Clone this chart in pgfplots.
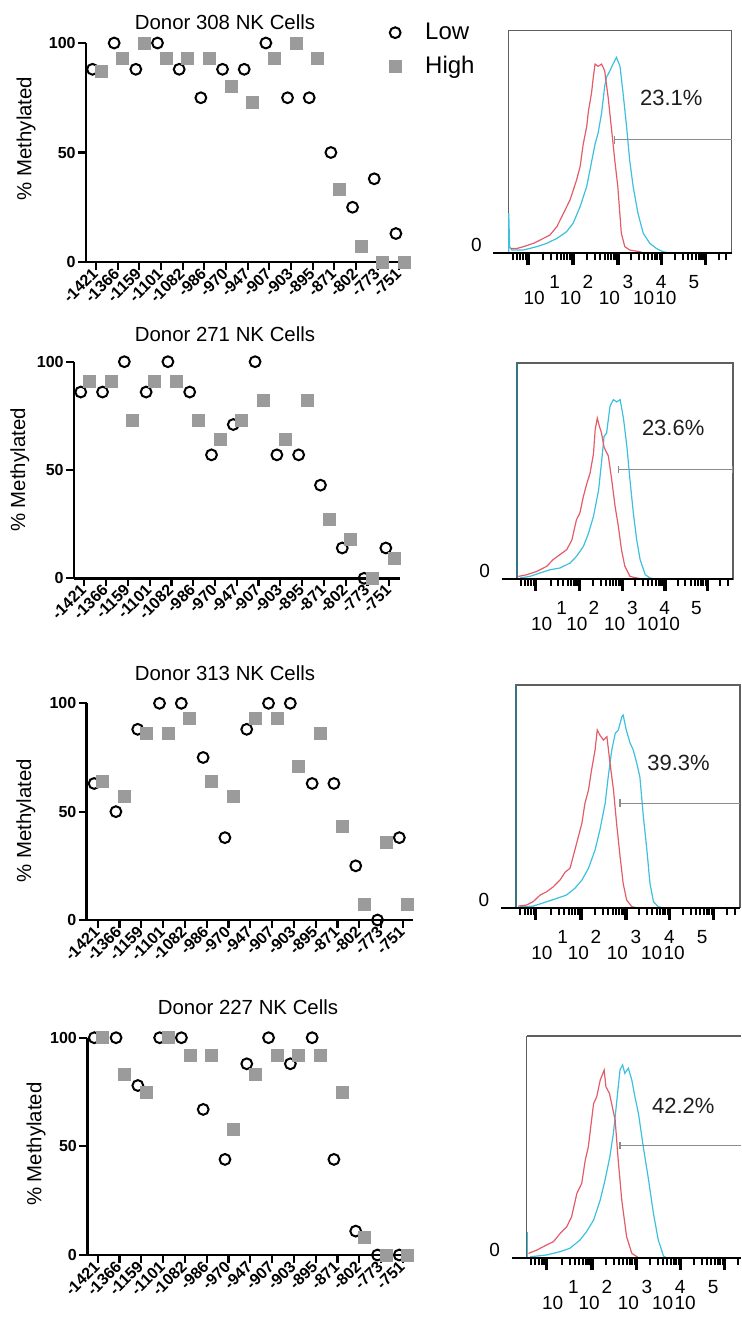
\documentclass[border=0pt]{standalone}
\usepackage{pgfplots}
\pgfplotsset{compat=1.18}
\usepackage{fontspec}
\setmainfont{Liberation Sans}
\definecolor{highc}{RGB}{155,155,155}
\definecolor{hred}{RGB}{228,92,105}
\definecolor{hcyan}{RGB}{60,192,222}
\definecolor{hteal}{RGB}{55,115,130}
\definecolor{boxc}{RGB}{95,95,95}
\definecolor{gatec}{RGB}{140,140,140}
\definecolor{pctc}{RGB}{30,30,30}
\tikzset{hl/.style={font=\fontsize{9.5}{11}\selectfont, inner sep=0.5pt}}
\pgfplotsset{
 scat/.style={scale only axis, clip=false, xmin=-0.48, xmax=14.49, ymin=0, ymax=100,
   axis x line*=bottom, axis y line*=left, axis line style={line width=1.3pt, black},
   xtick={0,...,14},
   xticklabels={-1421,-1366,-1159,-1101,-1082,-986,-970,-947,-907,-903,-895,-871,-802,-773,-751},
   ytick={0,50,100},
   tick align=outside, major tick length=4pt, every tick/.style={black, line width=1.1pt},
   /pgf/number format/assume math mode=true,
   yticklabel style={font=\bfseries\fontsize{8}{9}\selectfont, inner sep=1pt},
   xticklabel style={font=\bfseries\fontsize{8}{9}\selectfont, rotate=45, anchor=east, inner sep=0.5pt},
   ylabel={\% Methylated}, ylabel style={font=\fontsize{10.2}{12}\selectfont, anchor=center},
 },
 lowm/.style={only marks, mark=o, mark size=2.7pt, mark options={line width=1pt, black}},
 highm/.style={only marks, mark=square*, mark size=3pt, mark options={draw=highc, fill=highc}},
 hist/.style={scale only axis, clip=false, xmin=0, ymin=0, ymax=100,
   axis line style={boxc, line width=0.7pt},
   xtick={0.45,1.48,2.5,3.5,4.5}, xticklabels={},
   minor xtick={0.102,0.199,0.278,0.345,0.403,
     0.801,0.977,1.102,1.199,1.278,1.345,1.403,1.44,
     1.801,1.977,2.102,2.199,2.278,2.345,2.403,2.454,
     2.801,2.977,3.102,3.199,3.278,3.345,3.403,3.454,
     3.801,3.977,4.102,4.199,4.278,4.345,4.403,4.454,
     4.801,4.977},
   ytick=\empty, tick pos=left, tick align=outside,
   major tick length=6pt, minor tick length=3.5pt,
   tick style={black, line width=1pt},
   major tick style={black, line width=1.7pt},
   minor tick style={black, line width=1pt},
 },
 rline/.style={hred, line width=0.6pt, sharp plot, no marks},
 cline/.style={hcyan, line width=0.6pt, sharp plot, no marks},
}
\newcommand{\histlabels}{%
  \draw[black, line width=1pt] ([xshift=-7.5pt]axis cs:0,0) -- (rel axis cs:1,0);
  \node[hl] at ([xshift=-16pt,yshift=4pt]axis cs:0,0) {0};
  \node[hl] at ([yshift=-22.5pt]axis cs:0.59,0) {10};
  \node[hl] at ([yshift=-22.5pt]axis cs:1.42,0) {10};
  \node[hl] at ([yshift=-22.5pt]axis cs:2.31,0) {10};
  \node[hl] at ([yshift=-22.5pt]axis cs:3.09,0) {10};
  \node[hl] at ([yshift=-22.5pt]axis cs:3.6,0) {10};
  \node[hl] at ([yshift=-14.5pt]axis cs:1.06,0) {1};
  \node[hl] at ([yshift=-14.5pt]axis cs:1.82,0) {2};
  \node[hl] at ([yshift=-14.5pt]axis cs:2.73,0) {3};
  \node[hl] at ([yshift=-14.5pt]axis cs:3.49,0) {4};
  \node[hl] at ([yshift=-14.5pt]axis cs:4.24,0) {5};
}
\begin{document}
\begin{tikzpicture}
\useasboundingbox (0,0) rectangle (370.5pt,-659pt);
% titles
\node[font=\fontsize{10.2}{12}\selectfont] at (112.5pt,-11pt) {Donor 308 NK Cells};
\node[font=\fontsize{10.2}{12}\selectfont] at (112.5pt,-167pt) {Donor 271 NK Cells};
\node[font=\fontsize{10.2}{12}\selectfont] at (112.5pt,-336.5pt) {Donor 313 NK Cells};
\node[font=\fontsize{10.2}{12}\selectfont] at (124pt,-503.5pt) {Donor 227 NK Cells};

% ---------- scatter 1 ----------
\begin{axis}[scat, at={(43pt,-131pt)}, anchor=south west, width=162pt, height=109.5pt,
  xmin=-0.46, xmax=14.49,
  ylabel style={at={(axis description cs:-0.185,0.564)}},
  legend style={at={(axis description cs:0.916,1.13)}, anchor=north west, draw=none, fill=none,
    font=\fontsize{12}{14}\selectfont, row sep=3pt, column sep=10pt},
  legend cell align=left]
\addplot[lowm] coordinates {(-0.16,88)(0.84,100)(1.84,88)(2.84,100)(3.84,88)(4.84,75)(5.84,88)(6.84,88)(7.84,100)(8.84,75)(9.84,75)(10.84,50)(11.84,25)(12.84,38)(13.84,13)};
\addplot[highm] coordinates {(0.23,87)(1.23,93)(2.23,100)(3.23,93)(4.23,93)(5.23,93)(6.23,80)(7.23,73)(8.23,93)(9.23,100)(10.23,93)(11.23,33)(12.23,7)(13.23,0)(14.23,0)};
\legend{Low,High}
\end{axis}

% ---------- scatter 2 ----------
\begin{axis}[scat, at={(37pt,-289.15pt)}, anchor=south west, width=163pt, height=108.3pt,
  xmin=-0.47, xmax=14.49,
  ylabel style={at={(axis description cs:-0.166,0.5)}}]
\addplot[lowm] coordinates {(-0.16,86)(0.84,86)(1.84,100)(2.84,86)(3.84,100)(4.84,86)(5.84,57)(6.84,71)(7.84,100)(8.84,57)(9.84,57)(10.84,43)(11.84,14)(12.84,0)(13.84,14)};
\addplot[highm] coordinates {(0.23,91)(1.23,91)(2.23,73)(3.23,91)(4.23,91)(5.23,73)(6.23,64)(7.23,73)(8.23,82)(9.23,64)(10.23,82)(11.23,27)(12.23,18)(13.23,0)(14.23,9)};
\end{axis}

% ---------- scatter 3 ----------
\begin{axis}[scat, at={(43.35pt,-460pt)}, anchor=south west, width=163.3pt, height=108.35pt,
  xmin=-0.5, xmax=14.48,
  ylabel style={at={(axis description cs:-0.186,0.457)}}]
\addplot[lowm] coordinates {(-0.16,63)(0.84,50)(1.84,88)(2.84,100)(3.84,100)(4.84,75)(5.84,38)(6.84,88)(7.84,100)(8.84,100)(9.84,63)(10.84,63)(11.84,25)(12.84,0)(13.84,38)};
\addplot[highm] coordinates {(0.23,64)(1.23,57)(2.23,86)(3.23,86)(4.23,93)(5.23,64)(6.23,57)(7.23,93)(8.23,93)(9.23,71)(10.23,86)(11.23,43)(12.23,7)(13.23,36)(14.23,7)};
\end{axis}

% ---------- scatter 4 ----------
\begin{axis}[scat, at={(43.65pt,-627.5pt)}, anchor=south west, width=162.85pt, height=108.65pt,
  xmin=-0.48, xmax=14.47,
  ylabel style={at={(axis description cs:-0.157,0.51)}}]
\addplot[lowm] coordinates {(-0.16,100)(0.84,100)(1.84,78)(2.84,100)(3.84,100)(4.84,67)(5.84,44)(6.84,88)(7.84,100)(8.84,88)(9.84,100)(10.84,44)(11.84,11)(12.84,0)(13.84,0)};
\addplot[highm] coordinates {(0.23,100)(1.23,83)(2.23,75)(3.23,100)(4.23,92)(5.23,92)(6.23,58)(7.23,83)(8.23,92)(9.23,92)(10.23,92)(11.23,75)(12.23,8)(13.23,0)(14.23,0)};
\end{axis}

% ---------- histogram 1 ----------
\begin{axis}[hist, at={(254.15pt,-126.65pt)}, anchor=south west, width=111.7pt, height=111.3pt, xmax=5.1]
\addplot[cline] coordinates {(0.01,0)(0.01,18)(0.03,3)(0.08,1.5)(0.35,1.5)(0.65,3)(0.88,4.5)(1.11,6.7)(1.33,9.7)(1.48,13.5)(1.64,21)(1.79,30)(1.86,37)(1.98,49)(2.05,54)(2.13,63)(2.2,75)(2.24,79)(2.32,82)(2.39,85)(2.47,88)(2.55,84)(2.62,72)(2.7,57)(2.77,42)(2.85,30)(2.96,18)(3.08,9)(3.23,4.5)(3.38,2.2)(3.53,0.7)(3.7,0)};
\addplot[rline] coordinates {(0.05,2.2)(0.2,2.2)(0.35,3)(0.58,4.5)(0.8,6.7)(0.95,8.2)(1.11,12)(1.26,18)(1.41,24)(1.56,33)(1.64,39)(1.71,49)(1.79,57)(1.83,64)(1.9,72)(1.94,79)(1.98,85)(2.05,84)(2.13,85)(2.2,82)(2.28,70)(2.35,57)(2.43,42)(2.5,30)(2.58,9)(2.66,3)(2.77,1.5)(3.0,0.7)(3.1,0)};
\draw[gatec, line width=0.6pt] (axis cs:2.43,51) -- (axis cs:5.1,51);
\draw[gatec, line width=0.6pt] (axis cs:2.43,49.3) -- (axis cs:2.43,52.7);
\node[font=\fontsize{11}{13}\selectfont, text=pctc] at (axis cs:3.72,70) {23.1\%};
\histlabels
\end{axis}

% ---------- histogram 2 ----------
\begin{axis}[hist, at={(258.35pt,-289.5pt)}, anchor=south west, width=108.15pt, height=108pt, xmax=5.1]
\addplot[hteal, line width=0.9pt] coordinates {(0.0,0)(0.0,100)};
\addplot[cline] coordinates {(0.08,0.5)(0.31,1.2)(0.55,2.8)(0.79,4.3)(1.02,5.1)(1.26,7.4)(1.41,10.5)(1.57,15)(1.69,21)(1.81,29)(1.93,41)(2.0,54)(2.06,66)(2.12,67.6)(2.2,80)(2.28,83)(2.36,82)(2.44,83)(2.52,74)(2.6,61)(2.67,46)(2.75,30.6)(2.83,18)(2.91,9)(3.03,2)(3.14,0.5)(3.25,0)};
\addplot[rline] coordinates {(0.04,1.2)(0.24,2)(0.47,3.5)(0.71,5.9)(0.86,9)(1.02,11.3)(1.18,13.6)(1.3,18)(1.41,27.5)(1.49,30.6)(1.57,38)(1.65,44)(1.73,49)(1.81,58)(1.85,69)(1.9,74.5)(1.95,70.7)(2.0,67.6)(2.06,61)(2.16,57)(2.24,46)(2.32,33.6)(2.4,24)(2.47,13.6)(2.55,5.9)(2.67,1.2)(2.83,0.5)(2.95,0)};
\draw[gatec, line width=0.6pt] (axis cs:2.4,50.6) -- (axis cs:5.1,50.6);
\draw[gatec, line width=0.6pt] (axis cs:2.4,48.9) -- (axis cs:2.4,52.3);
\draw[gatec, line width=0.6pt] (axis cs:5.08,48.9) -- (axis cs:5.08,52.3);
\node[font=\fontsize{11}{13}\selectfont, text=pctc] at (axis cs:3.69,70) {23.6\%};
\histlabels
\end{axis}

% ---------- histogram 3 ----------
\begin{axis}[hist, at={(258pt,-453.85pt)}, anchor=south west, width=112pt, height=111.35pt, xmax=5.1]
\addplot[hteal, line width=0.9pt] coordinates {(0.0,0)(0.0,100)};
\addplot[cline] coordinates {(0.09,0.4)(0.39,0.7)(0.7,2.7)(0.93,4.2)(1.15,5.7)(1.34,8.7)(1.5,12.4)(1.65,17.7)(1.8,25.9)(1.91,34.9)(2.03,46.9)(2.1,58.8)(2.18,70.8)(2.26,78.3)(2.33,79.8)(2.41,85.8)(2.44,86.5)(2.51,79.8)(2.6,73.8)(2.67,70.8)(2.75,64.8)(2.82,58.8)(2.9,40.9)(2.98,25.9)(3.05,10.9)(3.13,2.7)(3.24,0.4)(3.35,0)};
\addplot[rline] coordinates {(0.05,0.7)(0.24,1.2)(0.39,2.7)(0.55,5.7)(0.7,7.2)(0.85,9.4)(1.0,12.4)(1.12,16)(1.23,17.7)(1.34,25.9)(1.42,31.9)(1.5,37.9)(1.57,46.9)(1.65,52.8)(1.72,61.8)(1.8,70.8)(1.85,79.8)(1.91,77.5)(1.99,75.3)(2.07,76.8)(2.14,65)(2.22,52.8)(2.29,37.9)(2.37,22.9)(2.44,10.9)(2.52,3.4)(2.64,0.4)(2.75,0)};
\draw[gatec, line width=0.6pt] (axis cs:2.37,46.9) -- (axis cs:5.1,46.9);
\draw[gatec, line width=0.6pt] (axis cs:2.37,45.2) -- (axis cs:2.37,48.6);
\node[font=\fontsize{11}{13}\selectfont, text=pctc] at (axis cs:3.7,64.8) {39.3\%};
\histlabels
\end{axis}

% ---------- histogram 4 ----------
\begin{axis}[hist, at={(263.35pt,-629.15pt)}, anchor=south west, width=107.15pt, height=111.15pt, xmax=4.87,
  axis x line*=box, axis y line*=left]
\addplot[cline] coordinates {(0.01,0)(0.01,12)};
\addplot[cline] coordinates {(0.08,0.7)(0.45,1.5)(0.76,3)(0.98,4.5)(1.21,8.2)(1.36,12)(1.52,17.2)(1.67,26.2)(1.78,35.2)(1.89,45.7)(1.97,56.2)(2.05,71.2)(2.12,84.7)(2.18,87)(2.23,83.2)(2.31,85.5)(2.39,80.1)(2.46,72.6)(2.54,65.1)(2.65,50.1)(2.77,35.2)(2.88,20.2)(2.99,8.2)(3.11,1)(3.2,0)};
\addplot[rline] coordinates {(0.04,2.2)(0.23,3.7)(0.45,6)(0.61,7.5)(0.76,11.2)(0.91,14.2)(1.02,18.7)(1.14,29.2)(1.25,33.7)(1.33,44.1)(1.4,50.1)(1.52,69.6)(1.59,72.6)(1.67,80.1)(1.76,84.7)(1.8,77.2)(1.88,74.2)(1.93,69.6)(2.01,62.2)(2.08,44.1)(2.16,26.2)(2.27,9.7)(2.39,2.2)(2.54,0.3)(2.6,0)};
\draw[gatec, line width=0.6pt] (axis cs:2.12,50.7) -- (axis cs:4.87,50.7);
\draw[gatec, line width=0.6pt] (axis cs:2.12,49) -- (axis cs:2.12,52.4);
\node[font=\fontsize{11}{13}\selectfont, text=pctc] at (axis cs:3.56,68.7) {42.2\%};
\histlabels
\end{axis}
\end{tikzpicture}
\end{document}
